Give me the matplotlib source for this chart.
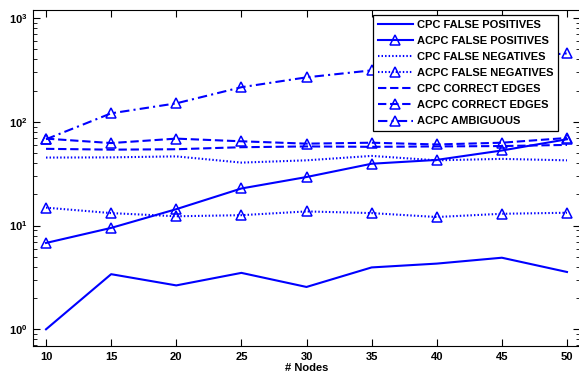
import matplotlib
matplotlib.use("Agg")
import matplotlib.pyplot as plt

nodes = [10, 15, 20, 25, 30, 35, 40, 45, 50]

cpc_false_pos = [1.0, 3.4, 2.65, 3.5, 2.56, 3.95, 4.3, 4.9, 3.57]
acpc_false_pos = [6.8, 9.5, 14.4, 22.8, 29.4, 39.5, 43.0, 53.0, 68.0]
cpc_false_neg = [45.3, 45.5, 46.5, 40.5, 42.6, 47.0, 42.6, 44.0, 42.6]
acpc_false_neg = [14.9, 13.2, 12.3, 12.6, 13.7, 13.2, 12.1, 13.0, 13.3]
cpc_correct = [55.0, 54.0, 54.5, 57.0, 58.0, 57.5, 58.0, 58.5, 60.0]
acpc_correct = [69.0, 62.5, 69.0, 65.0, 61.7, 63.0, 60.6, 63.0, 70.0]
acpc_ambiguous = [68.0, 121.0, 151.0, 216.0, 269.0, 314.0, 360.0, 410.0, 458.0]

BLUE = "#0000ff"

plt.rcParams["font.family"] = ["Liberation Sans", "DejaVu Sans"]
plt.rcParams["font.weight"] = "bold"
plt.rcParams["mathtext.fontset"] = "custom"
plt.rcParams["mathtext.rm"] = "Liberation Sans:bold"
plt.rcParams["mathtext.it"] = "Liberation Sans:bold"
plt.rcParams["mathtext.bf"] = "Liberation Sans:bold"

fig = plt.figure(figsize=(5.79, 3.75), dpi=100)
ax = fig.add_axes([33 / 579, 1 - 346 / 375, 547 / 579, 336 / 375])

tri = dict(marker="^", markersize=6.5, markerfacecolor="none",
           markeredgecolor=BLUE, markeredgewidth=1.1)

styles = {
    "-": "-",
    ":": (0, (0.7, 1.0)),
    "--": (0, (4.0, 1.8)),
    "-.": (0, (4.5, 2.0, 1.0, 2.0)),
}

series = [
    (cpc_false_pos, "-", False, "CPC FALSE POSITIVES"),
    (acpc_false_pos, "-", True, "ACPC FALSE POSITIVES"),
    (cpc_false_neg, ":", False, "CPC FALSE NEGATIVES"),
    (acpc_false_neg, ":", True, "ACPC FALSE NEGATIVES"),
    (cpc_correct, "--", False, "CPC CORRECT EDGES"),
    (acpc_correct, "--", True, "ACPC CORRECT EDGES"),
    (acpc_ambiguous, "-.", True, "ACPC AMBIGUOUS"),
]

for values, style, marked, label in series:
    kw = tri if marked else {}
    ax.plot(nodes, values, linestyle=styles[style], color=BLUE, linewidth=1.5,
            label=label, **kw)

ax.set_yscale("log")
ax.set_xlim(9, 51)
ax.set_ylim(0.69, 1200)
ax.set_xticks(nodes)
ax.set_xticklabels([str(n) for n in nodes])

ax.tick_params(which="both", direction="in", top=True, right=True,
               labelsize=8, pad=4)
ax.tick_params(which="major", length=5, width=0.8)
ax.tick_params(which="minor", length=3, width=0.6)
for sp in ax.spines.values():
    sp.set_linewidth(0.8)

ax.set_xlabel("# Nodes", fontsize=8, fontweight="bold", labelpad=1)

leg = ax.legend(loc="upper left", bbox_to_anchor=(0.622, 0.984),
                fontsize=8, numpoints=1, handlelength=3.2,
                handletextpad=0.3, labelspacing=0.55, borderpad=0.4,
                fancybox=False, framealpha=1, edgecolor="black",
                borderaxespad=0)
leg.get_frame().set_linewidth(0.9)

fig.savefig("out.png", dpi=100)
